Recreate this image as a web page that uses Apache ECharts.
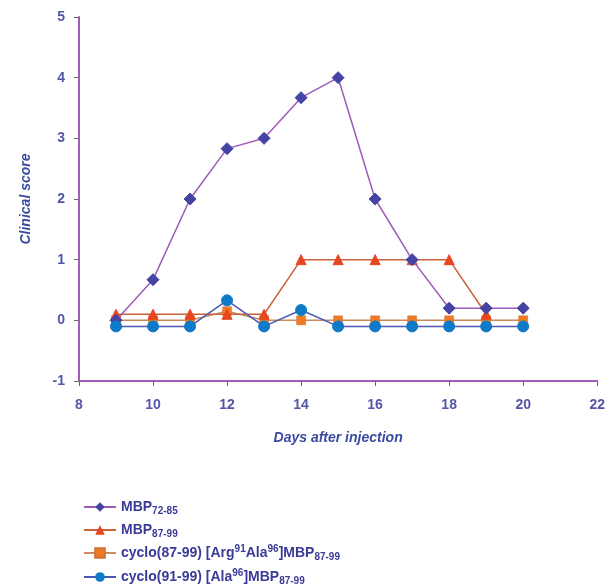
<!DOCTYPE html>
<html>
<head>
<meta charset="utf-8">
<script src="https://cdn.jsdelivr.net/npm/echarts@6/dist/echarts.min.js"></script>
<style>
  html, body { margin: 0; padding: 0; background: #fff; }
  #chart { width: 608px; height: 586px; }
</style>
</head>
<body>
<div id="chart"></div>
<script>
// days after injection
const days = [9, 10, 11, 12, 13, 14, 15, 16, 17, 18, 19, 20];

// clinical scores
const mbp7285 = [0, 0.67, 2, 2.83, 3, 3.67, 4, 2, 1, 0.2, 0.2, 0.2];
const mbp8799 = [0.1, 0.1, 0.1, 0.1, 0.1, 1, 1, 1, 1, 1, 0.1];
const cyclo8799 = [0, 0, 0, 0.15, 0, 0, 0, 0, 0, 0, 0, 0];
const cyclo9199 = [-0.1, -0.1, -0.1, 0.33, -0.1, 0.17, -0.1, -0.1, -0.1, -0.1, -0.1, -0.1];

const seriesNames = ['mbp7285', 'mbp8799', 'cyclo8799', 'cyclo9199'];

// rich-text labels for the legend (sub/superscripts)
const legendLabels = {
  mbp7285: '{b|MBP}{sub|72-85}',
  mbp8799: '{b|MBP}{sub|87-99}',
  cyclo8799: '{b|cyclo(87-99) [Arg}{sup|91}{b|Ala}{sup|96}{b|]MBP}{sub|87-99}',
  cyclo9199: '{b|cyclo(91-99) [Ala}{sup|96}{b|]MBP}{sub|87-99}'
};

const pairs = ys => ys.map((v, i) => [days[i], v]);

const axisCol = '#a25bb8';
const labelCol = '#5555a8';
const legendCol = '#3a3a98';
const font = 'Liberation Sans, Arial, sans-serif';

// one legend box per row, so the rows stack instead of wrapping into columns
const legendRowTop = [494, 517, 539, 563];
const legends = seriesNames.map((name, i) => ({
  orient: 'vertical',
  left: 78,
  top: legendRowTop[i],
  itemWidth: 32,
  itemHeight: 12,
  data: [name],
  formatter: n => legendLabels[n],
  textStyle: {
    color: legendCol,
    fontFamily: font,
    rich: {
      b: { fontSize: 14, fontWeight: 'bold', color: legendCol, fontFamily: font, lineHeight: 18 },
      sub: { fontSize: 10, fontWeight: 'bold', color: legendCol, fontFamily: font, verticalAlign: 'bottom', lineHeight: 18, padding: [7, 0, 0, 0] },
      sup: { fontSize: 10, fontWeight: 'bold', color: legendCol, fontFamily: font, verticalAlign: 'top', lineHeight: 18, padding: [0, 0, 6, 0] }
    }
  }
}));

const chart = echarts.init(document.getElementById('chart'), null, { renderer: 'canvas' });

chart.setOption({
  animation: false,
  backgroundColor: '#fff',
  grid: { left: 79, right: 8, top: 17, bottom: 205 },
  xAxis: {
    type: 'value',
    min: 8, max: 22, interval: 2,
    name: 'Days after injection',
    nameLocation: 'middle',
    nameGap: 50,
    nameTextStyle: { color: '#3a4aa0', fontSize: 14, fontWeight: 'bold', fontStyle: 'italic', fontFamily: font },
    axisLine: { onZero: false, lineStyle: { color: axisCol, width: 2 } },
    axisTick: { show: true, length: 5, lineStyle: { color: '#666', width: 1 } },
    axisLabel: { color: labelCol, fontSize: 14, fontWeight: 'bold', fontFamily: font, margin: 17 },
    splitLine: { show: false }
  },
  yAxis: {
    type: 'value',
    min: -1, max: 5, interval: 1,
    name: 'Clinical score',
    nameLocation: 'middle',
    nameGap: 46,
    nameRotate: 90,
    nameTextStyle: { color: '#3a4aa0', fontSize: 14, fontWeight: 'bold', fontStyle: 'italic', fontFamily: font },
    axisLine: { show: true, onZero: false, lineStyle: { color: axisCol, width: 2 } },
    axisTick: { show: true, length: 5, lineStyle: { color: '#666', width: 1 } },
    axisLabel: { color: labelCol, fontSize: 14, fontWeight: 'bold', fontFamily: font, margin: 14 },
    splitLine: { show: false }
  },
  legend: legends,
  series: [
    {
      name: 'mbp7285', type: 'line', data: pairs(mbp7285),
      symbol: 'diamond', symbolSize: 12,
      itemStyle: { color: '#4444a4', borderColor: '#4444a4' },
      lineStyle: { color: '#a05ab8', width: 1.5 },
      z: 4
    },
    {
      name: 'mbp8799', type: 'line', data: pairs(mbp8799),
      symbol: 'triangle', symbolSize: 10,
      itemStyle: { color: '#e8461e', borderColor: '#e8461e' },
      lineStyle: { color: '#c9623a', width: 1.5 },
      z: 3
    },
    {
      name: 'cyclo8799', type: 'line', data: pairs(cyclo8799),
      symbol: 'rect', symbolSize: 9,
      itemStyle: { color: '#f07a22', borderColor: '#d0703a', borderWidth: 0.5 },
      lineStyle: { color: '#c98a60', width: 1.5 },
      z: 2
    },
    {
      name: 'cyclo9199', type: 'line', data: pairs(cyclo9199),
      symbol: 'circle', symbolSize: 11,
      itemStyle: { color: '#0f7ac8', borderColor: '#0f7ac8' },
      lineStyle: { color: '#4a5ab4', width: 1.5 },
      z: 5
    }
  ]
});

window.addEventListener('resize', () => { try { chart.resize(); } catch (e) {} }, { passive: true });
</script>
</body>
</html>
